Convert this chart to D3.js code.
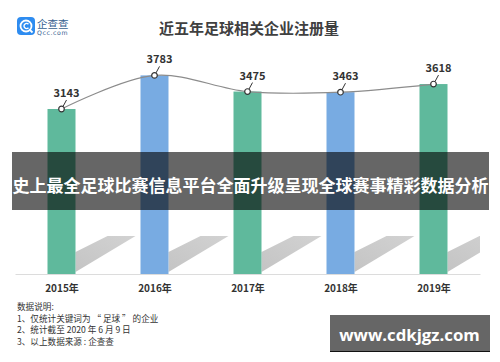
<!DOCTYPE html>
<html>
<head>
<meta charset="utf-8">
<script src="https://cdn.jsdelivr.net/npm/d3@7"></script>
<style>
  body { margin: 0; background: #fff; }
  svg { display: block; font-family: "Noto Sans CJK SC", "Noto Sans", sans-serif; }
</style>
</head>
<body>
<svg width="500" height="362"></svg>
<script>
// chart data
var years = ["2015年", "2016年", "2017年", "2018年", "2019年"];
var counts = [3143, 3783, 3475, 3463, 3618];
var barColors = ["#5fb99c", "#78abe2", "#5fb99c", "#78abe2", "#5fb99c"];
var notes = ["数据说明:", "1、仅统计关键词为 “ 足球 ” 的企业", "2、统计截至 2020 年 6 月 9 日", "3、以上数据来源 : 企查查"];
var title = "近五年足球相关企业注册量";
var banner = "史上最全足球比赛信息平台全面升级呈现全球赛事精彩数据分析";

var svg = d3.select("svg");
var data = years.map(function (y, i) { return { year: y, value: counts[i], color: barColors[i] }; });

var x = d3.scalePoint().domain(years).range([15, 480]).padding(0.5);
var y = d3.scaleLinear().domain([0, 4000]).range([274, 64]);
var bw = 28;

// shadow gradient
var defs = svg.append("defs");
var grad = defs.append("linearGradient").attr("id", "shade")
    .attr("x1", "0").attr("y1", "1").attr("x2", "1").attr("y2", "0");
grad.append("stop").attr("offset", "0").attr("stop-color", "#c4c4c4");
grad.append("stop").attr("offset", "1").attr("stop-color", "#d2d2d2");
defs.append("clipPath").attr("id", "plotclip")
    .append("rect").attr("x", 15).attr("y", 0).attr("width", 465).attr("height", 274);

// header
var logo = svg.append("g");
logo.append("rect").attr("x", 17).attr("y", 17).attr("width", 18).attr("height", 18)
    .attr("rx", 4).attr("fill", "#2e8cf0");
logo.append("circle").attr("cx", 26).attr("cy", 26).attr("r", 5.5)
    .attr("fill", "none").attr("stroke", "#fff").attr("stroke-width", 1.8);
logo.append("path").attr("d", "M28.5 24.2 A2.6 2.6 0 1 0 28.5 27.8")
    .attr("fill", "none").attr("stroke", "#fff").attr("stroke-width", 1.4);
logo.append("line").attr("x1", 29.5).attr("y1", 29.5).attr("x2", 32.5).attr("y2", 32.5)
    .attr("stroke", "#fff").attr("stroke-width", 1.8);
logo.append("text").attr("x", 37).attr("y", 27.5).attr("font-size", 10.5)
    .attr("fill", "#35608f").text("企查查");
logo.append("text").attr("x", 37).attr("y", 35).attr("font-size", 6.2)
    .attr("font-family", "DejaVu Sans").attr("letter-spacing", 0.6)
    .attr("fill", "#35608f").text("Qcc.com");

svg.append("text").attr("x", 249).attr("y", 34).attr("text-anchor", "middle")
    .attr("font-size", 15).attr("font-weight", "bold").attr("fill", "#404040").text(title);

// shadows
svg.append("g").attr("clip-path", "url(#plotclip)")
  .selectAll("path").data(data).enter().append("path")
    .attr("fill", "url(#shade)")
    .attr("d", function (d) {
      var x0 = x(d.year) + bw / 2;
      return "M" + x0 + ",272 L" + x0 + ",252 L" + (x0 + 32) + ",236 L" + (x0 + 60) + ",236 Z";
    });

// bars
svg.append("g").selectAll("rect").data(data).enter().append("rect")
    .attr("x", function (d) { return x(d.year) - bw / 2; })
    .attr("y", function (d) { return y(d.value); })
    .attr("width", bw)
    .attr("height", function (d) { return y(0) - y(d.value); })
    .attr("fill", function (d) { return d.color; });

// x axis
var xAxis = svg.append("g").attr("transform", "translate(0,274)")
    .call(d3.axisBottom(x).tickSize(0).tickPadding(11));
xAxis.select(".domain").attr("stroke", "#dcdcdc");
xAxis.selectAll("text").attr("font-size", 10).attr("font-weight", "bold")
    .attr("fill", "#333").attr("font-family", "\"Noto Sans CJK SC\", sans-serif");

// trend line
var line = d3.line()
    .x(function (d) { return x(d.year); })
    .y(function (d) { return y(d.value); })
    .curve(d3.curveCatmullRom.alpha(0.5));
svg.append("path").datum(data).attr("d", line)
    .attr("fill", "none").attr("stroke", "#8c8c8c").attr("stroke-width", 1.2);

var pts = svg.append("g").selectAll("g").data(data).enter().append("g")
    .attr("transform", function (d) { return "translate(" + x(d.year) + "," + y(d.value) + ")"; });
pts.append("line").attr("x1", 1.5).attr("y1", -2.5).attr("x2", 5).attr("y2", -9)
    .attr("stroke", "#333").attr("stroke-width", 1);
pts.append("circle").attr("r", 2.8).attr("fill", "#fff")
    .attr("stroke", "#333").attr("stroke-width", 1.2);
pts.append("text").attr("x", 5).attr("y", -12).attr("text-anchor", "middle")
    .attr("font-size", 11).attr("font-weight", "bold").attr("fill", "#333")
    .text(function (d) { return d.value; });

// notes
svg.append("g").selectAll("text").data(notes).enter().append("text")
    .attr("x", 17).attr("y", function (d, i) { return 310 + i * 11.6; })
    .attr("font-size", 8.6).attr("fill", "#333").text(function (d) { return d; });

// overlay banner
svg.append("rect").attr("x", 12).attr("y", 152).attr("width", 477).attr("height", 58)
    .attr("fill", "#000").attr("fill-opacity", 0.6);
svg.append("text").attr("x", 250.5).attr("y", 192).attr("text-anchor", "middle")
    .attr("font-size", 17).attr("font-weight", "bold").attr("fill", "#fff").text(banner);

// watermark
svg.append("rect").attr("x", 330).attr("y", 315).attr("width", 160).attr("height", 37)
    .attr("fill", "#666");
svg.append("line").attr("x1", 330).attr("x2", 490).attr("y1", 351.5).attr("y2", 351.5)
    .attr("stroke", "#111").attr("stroke-width", 1.2);
svg.append("text").attr("x", 409.5).attr("y", 341).attr("text-anchor", "middle")
    .attr("font-family", "\"Open Sans\", sans-serif").attr("font-size", 16.8)
    .attr("font-weight", "bold").attr("fill", "#fff").text("www.cdkjgz.com");
</script>
</body>
</html>
